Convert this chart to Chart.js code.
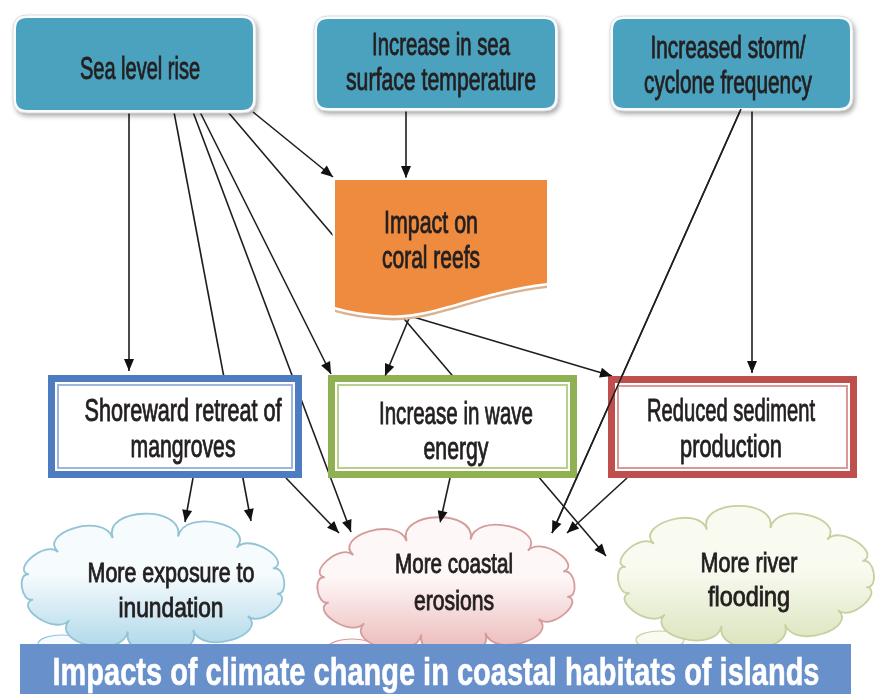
<!DOCTYPE html>
<html>
<head>
<meta charset="utf-8">
<title>Impacts of climate change in coastal habitats of islands</title>
<script src="https://cdn.jsdelivr.net/npm/chart.js@4.4.1/dist/chart.umd.min.js"></script>
<style>
    html, body { margin: 0; padding: 0; background: #ffffff; }
    #wrap { width: 887px; height: 694px; position: relative; }
</style>
</head>
<body>
<div id="wrap"><canvas id="flow"></canvas></div>
<script>
// node texts, one array per node (lines)
const nodeLabels = [
    ['Sea level rise'],
    ['Increase in sea', 'surface temperature'],
    ['Increased storm/', 'cyclone frequency'],
    ['Impact on', 'coral reefs'],
    ['Shoreward retreat of', 'mangroves'],
    ['Increase in wave', 'energy'],
    ['Reduced sediment', 'production'],
    ['More exposure to', 'inundation'],
    ['More coastal', 'erosions'],
    ['More river', 'flooding']
];
const nodeKinds = ['driver', 'driver', 'driver', 'coral', 'effect', 'effect', 'effect', 'outcome', 'outcome', 'outcome'];

// arrows: from node -> to node
const edgeFrom = [0, 0, 0, 0, 0, 0, 1, 2, 2, 3, 3, 4, 4, 5, 6];
const edgeTo   = [4, 7, 8, 5, 9, 3, 3, 8, 6, 5, 6, 7, 8, 8, 8];

const titleText = 'Impacts of climate change in coastal habitats of islands';

// ---- layout (pixel space of the 887x694 picture) ----
const nodeBoxes = [
    { x: 16, y: 18, w: 237, h: 92 },
    { x: 317, y: 19, w: 238, h: 89 },
    { x: 613, y: 19, w: 237, h: 89 },
    { x: 335, y: 180, w: 212, h: 135 },
    { x: 48, y: 375, w: 254, h: 103 },
    { x: 328, y: 375, w: 249, h: 103 },
    { x: 608, y: 376, w: 249, h: 102 },
    { cx: 153, cy: 584, rx: 136, ry: 62, tail: [62, 644] },
    { cx: 446, cy: 587, rx: 133, ry: 62, tail: [352, 648] },
    { cx: 746, cy: 577, rx: 132, ry: 64, tail: [660, 640] }
];
const textLayout = [
    { cx: 140, ys: [68], ws: [120] },
    { cx: 441, ys: [44, 79], ws: [138, 190] },
    { cx: 728, ys: [47, 82], ws: [155, 168] },
    { cx: 431, ys: [222, 257], ws: [94, 98] },
    { cx: 183, ys: [410, 446], ws: [197, 105] },
    { cx: 456, ys: [413, 448], ws: [154, 65] },
    { cx: 731, ys: [410, 446], ws: [168, 102] },
    { cx: 171, ys: [572, 607], ws: [167, 105] },
    { cx: 454, ys: [563, 600], ws: [118, 80] },
    { cx: 749, ys: [562, 596], ws: [97, 82] }
];
const edgeEnds = [
    [129, 112, 129, 371],
    [174, 112, 251, 521],
    [193, 112, 351, 532],
    [200, 112, 331, 374],
    [228, 112, 606, 556],
    [253, 112, 333, 177],
    [406, 109, 406, 178],
    [741, 109, 552, 533],
    [752, 109, 752, 373],
    [410, 316, 385, 376],
    [410, 316, 612, 376],
    [193, 478, 185, 522],
    [286, 478, 339, 533],
    [450, 478, 440, 523],
    [627, 478, 567, 533]
];
const overEdges = [7];

const FONT = '"Liberation Sans Narrow", "Liberation Sans", Arial, sans-serif';
const effectColors = {
    4: { band: '#4E7CC0', thin: '#9FB5DD' },
    5: { band: '#8FB152', thin: '#B9CF8E' },
    6: { band: '#BF4F4D', thin: '#DA9896' }
};
const cloudColors = {
    7: { top: '#F6FBFD', bottom: '#A8D5E7', line: '#93C3D6' },
    8: { top: '#FEF7F7', bottom: '#EAB3B3', line: '#D59C9C' },
    9: { top: '#F9FBF1', bottom: '#D9E3BA', line: '#C5D1A0' }
};

function roundRectPath(ctx, x, y, w, h, r) {
    ctx.beginPath();
    ctx.moveTo(x + r, y);
    ctx.lineTo(x + w - r, y);
    ctx.quadraticCurveTo(x + w, y, x + w, y + r);
    ctx.lineTo(x + w, y + h - r);
    ctx.quadraticCurveTo(x + w, y + h, x + w - r, y + h);
    ctx.lineTo(x + r, y + h);
    ctx.quadraticCurveTo(x, y + h, x, y + h - r);
    ctx.lineTo(x, y + r);
    ctx.quadraticCurveTo(x, y, x + r, y);
    ctx.closePath();
}

function cloudPath(ctx, cx, cy, rx, ry, n) {
    ctx.beginPath();
    for (let i = 0; i < n; i++) {
        const a0 = -Math.PI / 2 + (i / n) * Math.PI * 2 + 0.2;
        const a1 = a0 + (Math.PI * 2) / n;
        const p0 = [cx + rx * Math.cos(a0), cy + ry * Math.sin(a0)];
        const p1 = [cx + rx * Math.cos(a1), cy + ry * Math.sin(a1)];
        const chord = Math.hypot(p1[0] - p0[0], p1[1] - p0[1]);
        const h = chord * 0.5;
        const n0 = [Math.cos(a0), Math.sin(a0)];
        const n1 = [Math.cos(a1), Math.sin(a1)];
        if (i === 0) ctx.moveTo(p0[0], p0[1]);
        ctx.bezierCurveTo(p0[0] + n0[0] * h, p0[1] + n0[1] * h, p1[0] + n1[0] * h, p1[1] + n1[1] * h, p1[0], p1[1]);
    }
    ctx.closePath();
}

function drawFitted(ctx, str, cx, capY, targetW, size, weight, color, thicken) {
    ctx.font = `${weight} ${size}px ${FONT}`;
    const w = ctx.measureText(str).width;
    const sx = targetW / w;
    ctx.save();
    ctx.translate(cx, capY + size * 0.358);
    ctx.scale(sx, 1);
    ctx.textAlign = 'center';
    ctx.textBaseline = 'alphabetic';
    ctx.fillStyle = color;
    ctx.fillText(str, 0, 0);
    if (thicken) {
        ctx.strokeStyle = color;
        ctx.lineWidth = thicken;
        ctx.strokeText(str, 0, 0);
    }
    ctx.restore();
}

function arrowHead(ctx, x1, y1, x2, y2) {
    const ang = Math.atan2(y2 - y1, x2 - x1);
    const len = 12, half = 5;
    ctx.beginPath();
    ctx.moveTo(x2, y2);
    ctx.lineTo(x2 - len * Math.cos(ang) + half * Math.sin(ang), y2 - len * Math.sin(ang) - half * Math.cos(ang));
    ctx.lineTo(x2 - len * Math.cos(ang) - half * Math.sin(ang), y2 - len * Math.sin(ang) + half * Math.cos(ang));
    ctx.closePath();
    ctx.fillStyle = '#111111';
    ctx.fill();
}

const flowPlugin = {
    id: 'flowNodes',
    afterDatasetsDraw(chart) {
        const ctx = chart.ctx;
        const sx = chart.scales.x, sy = chart.scales.y;
        const px = (v) => sx.getPixelForValue(v);
        const py = (v) => sy.getPixelForValue(v);
        const pw = (v) => sx.getPixelForValue(v) - sx.getPixelForValue(0);
        const ph = (v) => sy.getPixelForValue(v) - sy.getPixelForValue(0);

        ctx.save();
        nodeKinds.forEach((kind, i) => {
            const b = nodeBoxes[i];
            if (kind === 'driver') {
                const x = px(b.x), y = py(b.y), w = pw(b.w), h = ph(b.h);
                ctx.save();
                ctx.shadowColor = 'rgba(0,0,0,0.35)';
                ctx.shadowBlur = 5;
                ctx.shadowOffsetX = 2;
                ctx.shadowOffsetY = 3;
                roundRectPath(ctx, x - 3, y - 3, w + 6, h + 6, 14);
                ctx.fillStyle = '#FAFCFD';
                ctx.fill();
                ctx.restore();
                roundRectPath(ctx, x - 3, y - 3, w + 6, h + 6, 14);
                ctx.strokeStyle = '#D6DEE2';
                ctx.lineWidth = 1;
                ctx.stroke();
                roundRectPath(ctx, x, y, w, h, 11);
                ctx.fillStyle = '#4AA2BE';
                ctx.fill();
            } else if (kind === 'coral') {
                const x = px(b.x), y = py(b.y), w = pw(b.w), h = ph(b.h);
                const shape = (dy) => {
                    ctx.beginPath();
                    ctx.moveTo(x, y + dy);
                    ctx.lineTo(x + w, y + dy);
                    ctx.lineTo(x + w, y + h - 32 + dy);
                    ctx.bezierCurveTo(x + w - 70, y + h - 24 + dy, x + 95, y + h + 4 + dy, x + 50, y + h + dy);
                    ctx.quadraticCurveTo(x + 20, y + h - 2 + dy, x, y + h - 8 + dy);
                    ctx.closePath();
                };
                shape(5);
                ctx.fillStyle = '#D9B291';
                ctx.fill();
                shape(0);
                ctx.strokeStyle = '#FFFFFF';
                ctx.lineWidth = 5;
                ctx.stroke();
                ctx.fillStyle = '#EE8B3E';
                ctx.fill();
            } else if (kind === 'effect') {
                const x = px(b.x), y = py(b.y), w = pw(b.w), h = ph(b.h);
                const c = effectColors[i];
                ctx.fillStyle = '#FFFFFF';
                ctx.fillRect(x, y, w, h);
                ctx.strokeStyle = c.band;
                ctx.lineWidth = 7;
                ctx.strokeRect(x + 3.5, y + 3.5, w - 7, h - 7);
                ctx.strokeStyle = c.thin;
                ctx.lineWidth = 2;
                ctx.strokeRect(x + 10, y + 10, w - 20, h - 20);
            } else {
                const c = cloudColors[i];
                const cx = px(b.cx), cy = py(b.cy), rx = pw(b.rx), ry = ph(b.ry);
                const grad = ctx.createLinearGradient(0, cy - ry - 15, 0, cy + ry + 10);
                grad.addColorStop(0, c.top);
                grad.addColorStop(0.45, c.top);
                grad.addColorStop(1, c.bottom);
                // small tail puff, mostly under the title bar
                ctx.beginPath();
                ctx.ellipse(px(b.tail[0]), py(b.tail[1]), 24, 9, 0, 0, Math.PI * 2);
                ctx.fillStyle = c.top;
                ctx.fill();
                ctx.strokeStyle = c.line;
                ctx.lineWidth = 1.2;
                ctx.stroke();
                cloudPath(ctx, cx, cy, rx * 0.93, ry * 0.78, 12);
                ctx.fillStyle = grad;
                ctx.fill();
                ctx.strokeStyle = c.line;
                ctx.lineWidth = 1.8;
                ctx.stroke();
            }
        });

        // edges that run over the boxes
        overEdges.forEach((k) => {
            const e = edgeEnds[k];
            ctx.beginPath();
            ctx.moveTo(px(e[0]), py(e[1]));
            ctx.lineTo(px(e[2]), py(e[3]));
            ctx.strokeStyle = '#1E1E1E';
            ctx.lineWidth = 1.6;
            ctx.stroke();
        });

        // arrow heads
        edgeEnds.forEach((e) => {
            arrowHead(ctx, px(e[0]), py(e[1]), px(e[2]), py(e[3]));
        });

        // labels
        nodeLabels.forEach((lines, i) => {
            const t = textLayout[i];
            const size = nodeKinds[i] === 'outcome' ? 28 : 32;
            lines.forEach((line, j) => {
                drawFitted(ctx, line, px(t.cx), py(t.ys[j]), pw(t.ws[j]), size, 'normal', '#231F20', 0.9);
            });
        });

        // title bar
        ctx.fillStyle = '#6890CB';
        ctx.fillRect(px(20), py(644), pw(831), ph(50));
        drawFitted(ctx, titleText, px(436), py(671), pw(767), 39, 'bold', '#FFFFFF', 0.6);
        ctx.restore();
    }
};

const datasets = edgeFrom.map((from, i) => ({
    label: nodeLabels[from].join(' ') + ' -> ' + nodeLabels[edgeTo[i]].join(' '),
    data: [
        { x: edgeEnds[i][0], y: edgeEnds[i][1] },
        { x: edgeEnds[i][2], y: edgeEnds[i][3] }
    ],
    showLine: true,
    borderColor: '#1E1E1E',
    borderWidth: 1.6,
    pointRadius: 0,
    pointHoverRadius: 0,
    fill: false
}));

new Chart(document.getElementById('flow'), {
    type: 'scatter',
    data: { datasets },
    options: {
        responsive: true,
        maintainAspectRatio: false,
        animation: false,
        events: [],
        layout: { padding: 0 },
        scales: {
            x: { type: 'linear', min: 0, max: 887, display: false },
            y: { type: 'linear', min: 0, max: 694, reverse: true, display: false }
        },
        plugins: {
            legend: { display: false },
            tooltip: { enabled: false },
            title: { display: false }
        }
    },
    plugins: [flowPlugin]
});
</script>
</body>
</html>
